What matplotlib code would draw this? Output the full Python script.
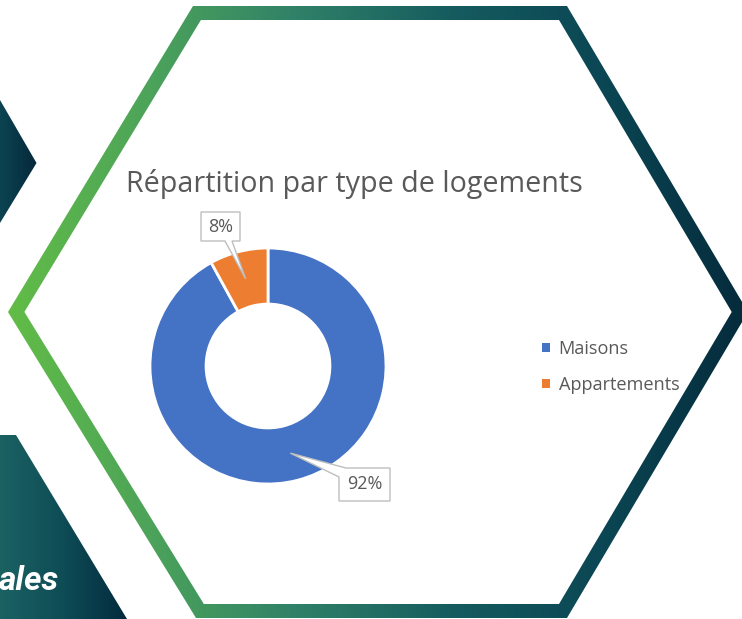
import numpy as np
import matplotlib
matplotlib.use("Agg")
import matplotlib.pyplot as plt
from matplotlib.colors import LinearSegmentedColormap
from matplotlib.patches import Polygon

# ---------------- data ----------------
categories = ["Maisons", "Appartements"]
values = [92, 8]
pct_labels = ["92%", "8%"]
title = "Répartition par type de logements"
side_text = "ales"
colors = ["#4472C4", "#ED7D31"]

plt.rcParams['font.family'] = ['Open Sans', 'DejaVu Sans']

W, H = 742, 619
fig = plt.figure(figsize=(W / 100, H / 100), dpi=100)
fig.patch.set_facecolor("white")

bg = fig.add_axes([0, 0, 1, 1])
bg.set_axis_off()


def grad_fill(ax, verts, x0, x1, cols, z):
    cmap = LinearSegmentedColormap.from_list("g", cols)
    grad = np.linspace(0, 1, 256).reshape(1, -1)
    ys = [v[1] for v in verts]
    im = ax.imshow(grad, cmap=cmap, extent=(x0, x1, max(ys), min(ys)),
                   aspect="auto", zorder=z, interpolation="bilinear")
    poly = Polygon(verts, closed=True, facecolor="none", edgecolor="none")
    ax.add_patch(poly)
    im.set_clip_path(poly)


def offset_poly(verts, d):
    # inward offset of a convex polygon
    v = np.array(verts, float)
    n = len(v)
    c = v.mean(axis=0)
    lines = []
    for i in range(n):
        p, q = v[i], v[(i + 1) % n]
        t = (q - p) / np.linalg.norm(q - p)
        nrm = np.array([-t[1], t[0]])
        if np.dot(c - p, nrm) < 0:
            nrm = -nrm
        lines.append((p + nrm * d, t))
    out = []
    for i in range(n):
        p1, t1 = lines[i - 1]
        p2, t2 = lines[i]
        A = np.array([t1, -t2]).T
        s = np.linalg.solve(A, p2 - p1)
        out.append(p1 + t1 * s[0])
    return out


# hexagon frame
hex_outer = [(193, 6), (567, 6), (748, 312), (567, 618), (196, 618), (8, 312)]
hex_inner = offset_poly(hex_outer, 14)
grad_fill(bg, hex_outer, 0, 750,
          ["#63BE45", "#4CA35A", "#2F8068", "#165C5F", "#0B4754", "#052A3B"], 1)
bg.add_patch(Polygon(hex_inner, closed=True, facecolor="white", edgecolor="none", zorder=2))

# left decorative shapes
grad_fill(bg, [(0, 100), (36.5, 163), (0, 223)], 0, 37, ["#0C4452", "#05283A"], 1)
grad_fill(bg, [(0, 435), (16, 435), (127, 619), (0, 619)], 0, 127,
          ["#1B6262", "#0E4C56", "#032B3D"], 1)
bg.text(-1, 590, side_text, color="white", fontsize=24, fontweight="bold",
        fontstyle="italic", family=["Roboto", "DejaVu Sans"], ha="left",
        va="baseline", zorder=5)

bg.set_xlim(0, W)
bg.set_ylim(H, 0)

# title
bg.text(354, 192, title, ha="center", va="baseline", fontsize=20.6,
        color="#595959", zorder=5)

# ---------------- donut ----------------
cx, cy, R = 268, 366, 118
ax = fig.add_axes([(cx - R) / W, (H - cy - R) / H, 2 * R / W, 2 * R / H])
ax.set_zorder(3)
ring = 0.475
wedges, _ = ax.pie(values, colors=colors, startangle=90, counterclock=False,
                   radius=1, wedgeprops=dict(width=ring, edgecolor="white",
                                             linewidth=2))
ax.set_xlim(-1, 1)
ax.set_ylim(-1, 1)
ax.set_aspect("equal")
ax.set_axis_off()


def px(dx, dy):
    return dx / R, -dy / R


box_layout = {
    0: dict(box=(339, 468, 390, 501), base=[(339, 477), (346, 468)]),
    1: dict(box=(201, 212, 240, 241), base=[(232, 241), (225, 241)]),
}
total = float(sum(values))
cum = 0.0
for i, v in enumerate(values):
    mid = 90 - (cum + v / 2) / total * 360
    cum += v
    rm = 1 - ring / 2
    tip = (rm * np.cos(np.radians(mid)), rm * np.sin(np.radians(mid)))
    x0, y0, x1, y1 = box_layout[i]["box"]
    b1, b2 = box_layout[i]["base"]
    if i == 0:
        pts = [(346, y0), (x1, y0), (x1, y1), (x0, y1), b1, None, b2]
    else:
        pts = [(x0, y0), (x1, y0), (x1, y1), b1, None, b2, (x0, y1)]
    verts = []
    for p in pts:
        if p is None:
            verts.append(tip)
        else:
            verts.append(px(p[0] - cx, p[1] - cy))
    ax.add_patch(Polygon(verts, closed=True, facecolor="white",
                         edgecolor="#BFBFBF", linewidth=1.0, clip_on=False,
                         zorder=4))
    tx, ty = px((x0 + x1) / 2 - cx, (y0 + y1) / 2 - cy)
    ax.text(tx, ty, pct_labels[i], ha="center", va="center", fontsize=13,
            color="#595959", zorder=5, clip_on=False)

# legend
leg = bg.legend(wedges, categories, loc="center left",
                bbox_to_anchor=(526, 367), bbox_transform=bg.transData,
                frameon=False, fontsize=13.1, handlelength=0.4,
                handleheight=0.4, handletextpad=0.5, labelspacing=0.95,
                labelcolor="#595959")
for h in leg.legend_handles:
    h.set_edgecolor("none")
leg.set_zorder(6)

fig.savefig("out.png", dpi=100, facecolor="white")
